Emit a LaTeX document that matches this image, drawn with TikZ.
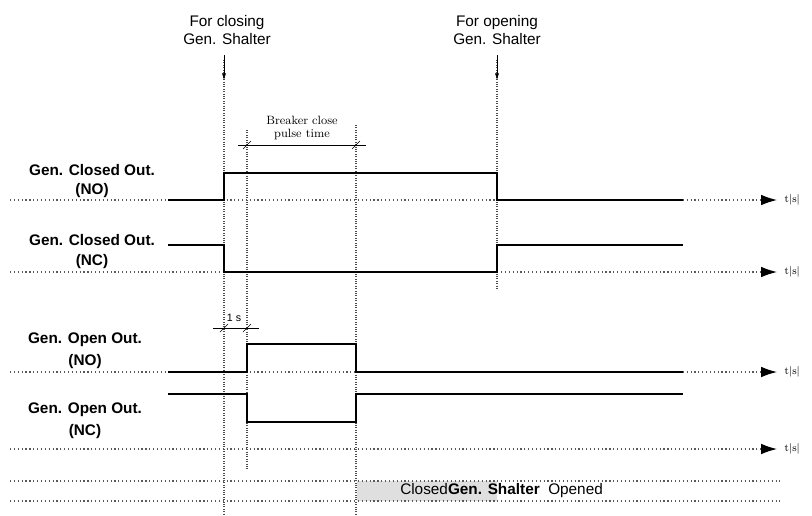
\documentclass[tikz,border=0pt]{standalone}
\usepackage{fontspec}
\setmainfont{Liberation Sans}
\usetikzlibrary{arrows.meta}
\begin{document}
\begin{tikzpicture}[x=0.75pt,y=-0.75pt,
  sig/.style={line width=1.9pt,line join=miter},
  dot/.style={dotted,line width=0.9pt,gray!70!black},
  vdot/.style={densely dotted,line width=0.8pt,gray!60!black},
  lab/.style={font=\bfseries\fontsize{11.5}{12}\selectfont,anchor=center},
  ax/.style={-{Latex[length=12pt,width=8pt,black]},dot},
  tl/.style={font=\fontfamily{lmr}\fontsize{8}{9}\selectfont,anchor=west}]
\useasboundingbox (0,0) rectangle (812,515);
\fill[gray!25] (357,481) rectangle (497,501);
% vertical guides
\draw[vdot] (224,60) -- (224,515);
\draw[vdot] (247,130) -- (247,470);
\draw[vdot] (356,125) -- (356,515);
\draw[vdot] (497,60) -- (497,290);
% axes
\foreach \y/\n in {200/a,272/b,372/c,449/d}{
  \coordinate (s\n) at (10,\y); \coordinate (e\n) at (777,\y);
  \draw[ax] (s\n) -- (e\n);
  \node[tl] at (780,\y) {t|s|};}
\draw[dot] (10,481) -- (780,481);
\draw[dot] (10,501) -- (780,501);
% signals
\draw[sig] (168,200) -- (224,200) -- (224,173) -- (497,173) -- (497,200) -- (683,200);
\draw[sig] (168,245) -- (224,245) -- (224,272) -- (497,272) -- (497,245) -- (683,245);
\draw[sig] (168,372) -- (247,372) -- (247,344) -- (356,344) -- (356,372) -- (683,372);
\draw[sig] (168,394) -- (247,394) -- (247,422) -- (356,422) -- (356,394) -- (683,394);
% labels
\node[lab] at (92,170) {Gen. Closed Out.};
\node[lab] at (92,191) {(NO)};
\node[lab] at (92,240) {Gen. Closed Out.};
\node[lab] at (92,262) {(NC)};
\node[lab] at (85,340) {Gen. Open Out.};
\node[lab] at (85,362) {(NO)};
\node[lab] at (85,410) {Gen. Open Out.};
\node[lab] at (85,432) {(NC)};
\node[font=\fontsize{11.5}{13}\selectfont,align=center] (t1) at (227,30) {For closing\\Gen. Shalter};
\node[font=\fontsize{11.5}{13}\selectfont,align=center] (t2) at (497,30) {For opening\\Gen. Shalter};
\coordinate (a1) at (224,80); \coordinate (a2) at (497,80);
\draw[-{Latex[length=5pt,width=3pt]},thin] (224,55) -- (a1);
\draw[-{Latex[length=5pt,width=3pt]},thin] (497,55) -- (a2);
% dimensions
\draw[thin] (238,145) -- (366,145);
\draw[thin] (243,149) -- (251,141); \draw[thin] (352,149) -- (360,141);
\node[font=\fontfamily{lmr}\fontsize{9}{10}\selectfont,align=center] at (302,128) {Breaker close\\pulse time};
\draw[thin] (213,328) -- (259,328);
\draw[thin] (220,332) -- (228,324); \draw[thin] (243,332) -- (251,324);
\node[font=\fontsize{8}{9}\selectfont] at (234,318) {1 s};
% bottom
\node[font=\fontsize{11.5}{12}\selectfont,anchor=west,inner sep=0] at (400,491) {Closed\textbf{Gen. Shalter}\ \ Opened};
\end{tikzpicture}
\end{document}
